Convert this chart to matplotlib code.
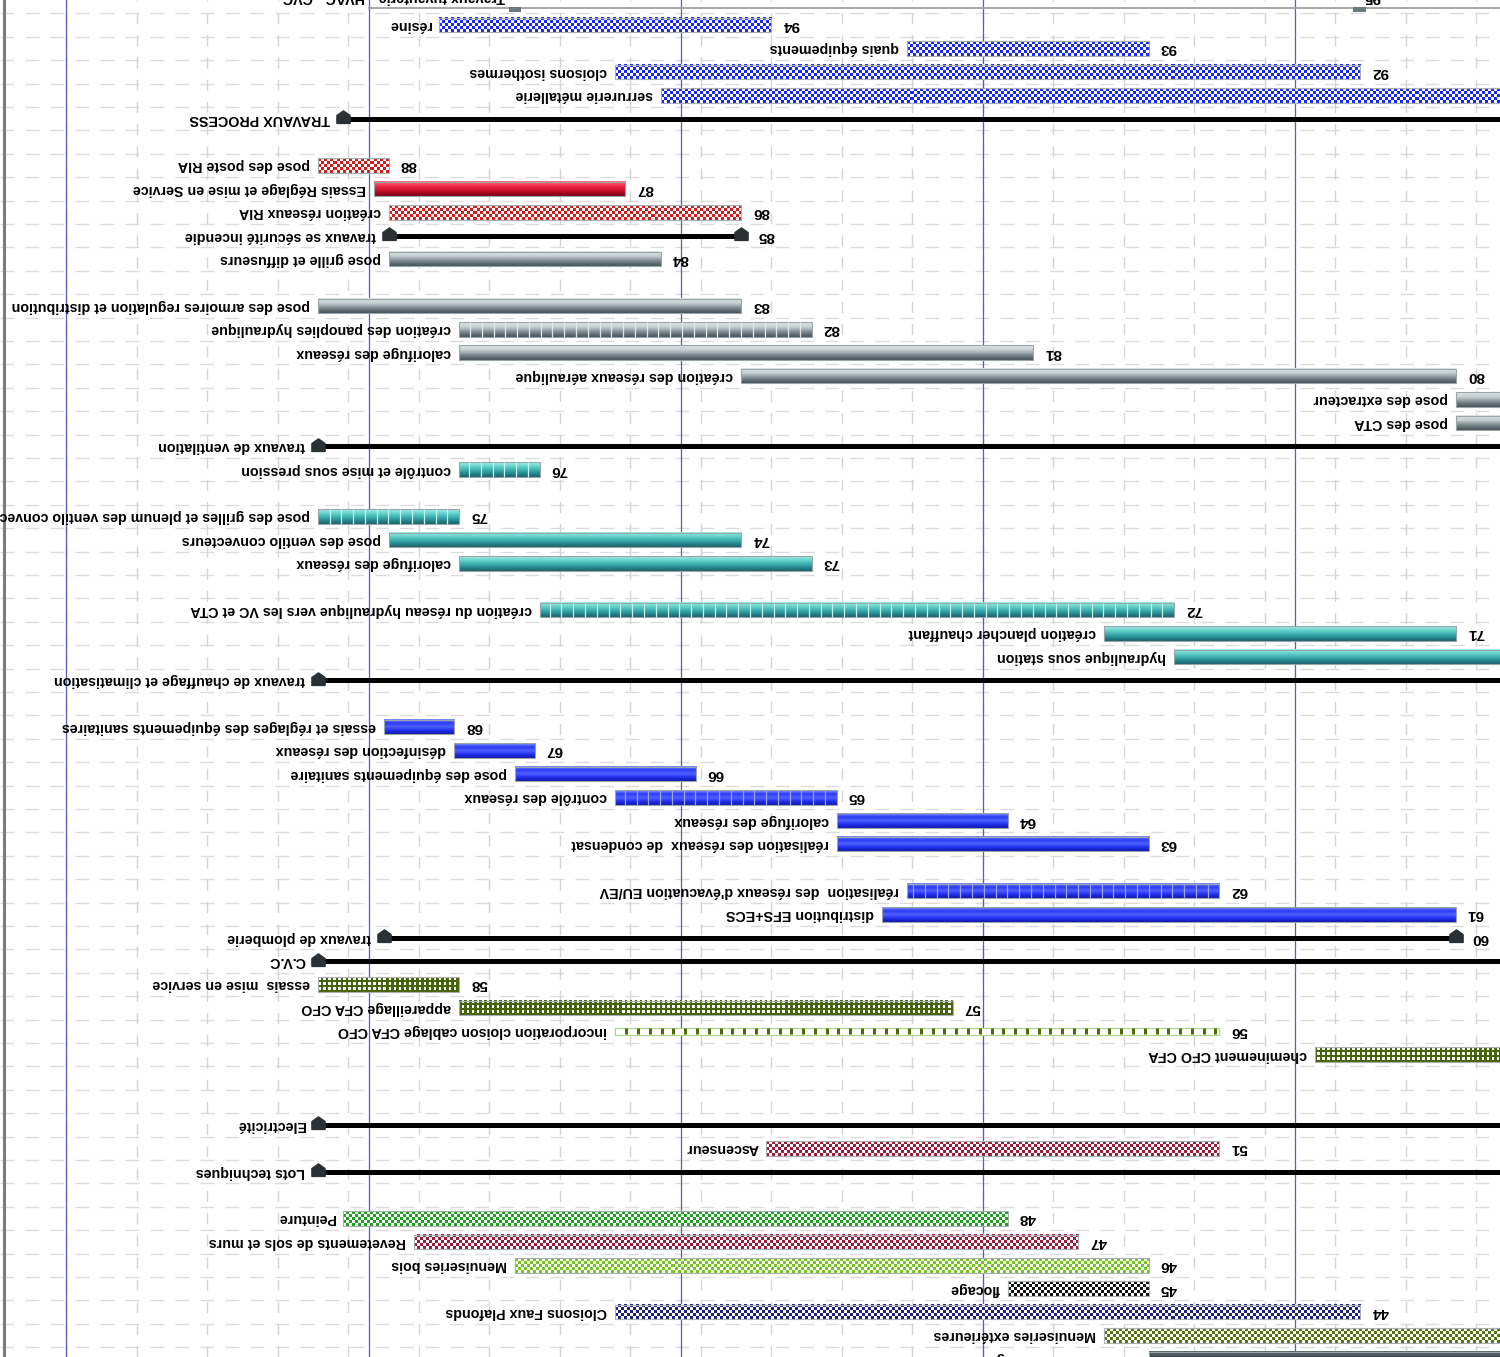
import numpy as np
import matplotlib.pyplot as plt
import matplotlib.transforms as mtransforms
from matplotlib.colors import LinearSegmentedColormap, ListedColormap
from matplotlib.patches import Rectangle
from matplotlib.path import Path

plt.rcParams['font.family'] = ['Liberation Sans', 'DejaVu Sans']

# tasks listed from bottom of the picture upwards (ID order)
# days counted from the first month line, growing to the left
names = ["Couverture et bardage", "Menuiseries extérieures", "Cloisons Faux Plafonds", "flocage",
         "Menuiseries bois", "Revetements de sols et murs", "Peinture", "Lots techniques",
         "Ascenseur", "Electricité", "cheminement CFO CFA", "incorporation cloison cablage CFA CFO",
         "appareillage CFA CFO", "essais  mise en service", "C.V.C", "travaux de plomberie",
         "distribution EFS+ECS", "réalisation  des réseaux d'évacuation EU/EV",
         "réalisation des réseaux  de condensat", "calorifuge des réseaux", "contrôle des réseaux",
         "pose des équipements sanitaire", "désinfection des réseaux",
         "essais et réglages des équipements sanitaires", "travaux de chauffage et climatisation",
         "hydraulique sous station", "création plancher chauffant",
         "création du réseau hydraulique vers les VC et CTA", "calorifuge des réseaux",
         "pose des ventilo convecteurs", "pose des grilles et plenum des ventilo convecteurs",
         "contrôle et mise sous pression", "travaux de ventilation", "pose des CTA",
         "pose des extracteur", "création des réseaux aéraulique", "calorifuge des réseaux",
         "création des panoplies hydraulique", "pose des armoires regulation et distribution",
         "pose grille et diffuseurs", "travaux se sécurité incendie", "création réseaux RIA",
         "Essais Réglage et mise en Service", "pose des poste RIA", "TRAVAUX PROCESS",
         "serrurerie métallerie", "cloisons isothermes", "quais équipements", "résine"]
ids = [42, 43, 44, 45, 46, 47, 48, 50, 51, 52, 55, 56, 57, 58, 59, 60, 61, 62, 63, 64, 65, 66, 67,
       68, 69, 70, 71, 72, 73, 74, 75, 76, 77, 78, 79, 80, 81, 82, 83, 84, 85, 86, 87, 88, 90, 91,
       92, 93, 94]
start = [-25, -25, -6.5, 14.5, 14.5, 21.5, 28.5, -25, 7.5, -25, -25, 7.5, 34, 83, -25, -16, -16,
         7.5, 14.5, 28.5, 45.5, 59.5, 75.5, 83.5, -25, -25, -16, 12, 48, 55, 83, 75, -25, -25, -25,
         -16, 26, 48, 55, 63, 55, 55, 66.5, 90, -25, -25, -6.5, 14.5, 52]
finish = [14.5, 19, 67.5, 28.5, 77.5, 87.5, 94.5, 97, 52.5, 97, -2, 67.5, 83, 97, 97, 90.5, 41,
          38.5, 45.5, 45.5, 67.5, 77.5, 83.5, 90.5, 97, 12, 19, 75, 83, 90, 97, 83, 97, -16, -16,
          55, 83, 83, 97, 90, 90, 90, 91.5, 97, 94.5, 63, 67.5, 38.5, 85]
lines = [1, 1, 1, 1, 1, 1, 2, 1, 1, 3, 1, 1, 1, 1, 1, 1, 1, 2, 1, 1, 1, 1, 1, 2, 1, 1, 1, 2, 1, 1,
         2, 1, 1, 1, 1, 1, 1, 1, 2, 1, 1, 1, 1, 2, 1, 1, 1, 1, 1]
kind = ["slate", "chk_olive2", "chk_navy", "chk_black", "chk_lime", "chk_maroon", "chk_green",
        "sum", "chk_maroon", "sum", "dot_olive", "dash_olive", "dot_olive", "dot_olive", "sum", "sum",
        "blue", "blue_seg", "blue", "blue", "blue_seg", "blue", "blue", "blue", "sum", "teal", "teal",
        "teal_seg", "teal", "teal", "teal_seg", "teal_seg", "sum", "gray", "gray", "gray", "gray",
        "gray_seg", "gray", "gray", "sum", "chk_red", "red", "chk_red", "sum", "chk_blue",
        "chk_blue", "chk_blue", "chk_blue"]

# cut row at the very top
top_labels = ["Travaux tuyauterie", "HVAC - CVC"]
top_id = 95
top_pieces = [(-7.1, -5.8), (76.9, 78.1)]
hvac_start = 92

months = [0, 31, 61, 92, 122]

grads = {'gray': ['#46535a', '#7b888d', '#c6ced1', '#dfe5e6'],
         'teal': ['#1b626c', '#2c9a9e', '#5ccdc6', '#a0eee6'],
         'blue': ['#0f18b0', '#2331f0', '#5060ff', '#2b3bf4', '#8290ff'],
         'red': ['#740010', '#c4102a', '#ee2843', '#ff7088'],
         'slate': ['#1f2a30', '#36444a', '#5d6b70']}
chk = {'chk_blue': '#1626ff', 'chk_red': '#d81a1a', 'chk_navy': '#1e1e7e', 'chk_black': '#111111',
       'chk_lime': '#74c41e', 'chk_maroon': '#9e1a36', 'chk_green': '#1f9f1f',
       'chk_olive2': '#55760e', 'dot_olive': '#46650a'}
seg_col = {'blue': '#9aa4ff', 'teal': '#c6f2ee', 'gray': '#e2e8ea'}

PX_DAY = 10.07
bh = 0.62

fig = plt.figure(figsize=(15, 13.57), dpi=100)
ax = fig.add_axes([0, 0, 1, 1])
ax.axis('off')

ypos = np.cumsum([0] + lines[:-1]) + 0.5

# light dashed grid
for k in range(1, 60):
    ax.axhline(k, color='#dcdcdc', lw=1, dashes=(10, 8), zorder=0)
for w in np.arange(-18, 123, 7):
    ax.axvline(w, color='#d4d4d4', lw=1, dashes=(8, 8), zorder=0)
for m in months:
    ax.axvline(m, color='#5b5bb8', lw=0.9, zorder=1)
ax.axvline(128.2, color='#7c7c7c', lw=2.2, zorder=1)


def checker(x0, x1, y, color, dots=False):
    cell = 2.5 if dots else 3.0
    nx = max(2, int(round(abs(x1 - x0) * PX_DAY / cell)))
    ny = int(round(bh * 23.4 / cell))
    jj, ii = np.meshgrid(np.arange(nx), np.arange(ny))
    if dots:
        arr = ((ii % 2 == 1) & (jj % 2 == 1)).astype(float)
    else:
        arr = ((ii + jj) % 2).astype(float)
    ax.imshow(arr, extent=(x0, x1, y - bh / 2, y + bh / 2), cmap=ListedColormap([color, 'white']),
              vmin=0, vmax=1, interpolation='nearest', aspect='auto', origin='lower', zorder=3)


def gradient(x0, x1, y, cols):
    arr = np.linspace(0, 1, 40).reshape(-1, 1)
    ax.imshow(arr, extent=(x0, x1, y - bh / 2, y + bh / 2),
              cmap=LinearSegmentedColormap.from_list('g', cols), origin='lower',
              aspect='auto', interpolation='bilinear', zorder=3)


house = Path([(-1, -0.9), (1, -0.9), (1, 0.3), (0, 1), (-1, 0.3), (-1, -0.9)],
             [1, 2, 2, 2, 2, 79])

for nm, i_d, s, f, y, kd in zip(names, ids, start, finish, ypos, kind):
    off = 8
    if kd == 'sum':
        ax.plot([s, f], [y, y], color='black', lw=3.6, solid_capstyle='butt', zorder=3)
        ax.plot([s, f], [y + 0.06, y + 0.06], ls='none', marker=house, ms=9.5,
                color='#2a3135', zorder=4)
        off = 13
    elif kd == 'dash_olive':
        ax.add_patch(Rectangle((s, y - 0.14), f - s, 0.28, fc='white', ec='#a9d27f', lw=0.8, zorder=3))
        ax.vlines(np.arange(s + 0.4, f, 1.17), y - 0.12, y + 0.12, colors='#4d6a0c', lw=2.2, zorder=4)
    elif kd.startswith('chk') or kd == 'dot_olive':
        checker(s, f, y, chk[kd], dots=(kd == 'dot_olive'))
        ax.add_patch(Rectangle((s, y - bh / 2), f - s, bh, fc='none', ec='#a7b0b3', lw=0.8, zorder=4))
    else:
        base = kd.replace('_seg', '')
        gradient(s, f, y, grads[base])
        ax.add_patch(Rectangle((s, y - bh / 2), f - s, bh, fc='none', ec='#9aa5a8', lw=0.8, zorder=4))
        if kd.endswith('_seg'):
            ax.vlines(np.arange(s + 1.17, f, 1.17), y - bh / 2, y + bh / 2,
                      colors=seg_col[base], lw=0.9, zorder=4)
    lab_tr = mtransforms.offset_copy(ax.transData, fig=fig, x=-off, y=0, units='dots')
    num_tr = mtransforms.offset_copy(ax.transData, fig=fig, x=off + 3, y=0, units='dots')
    ax.text(f, y, nm, rotation=180, ha='right', va='center', fontsize=10.3,
            fontweight='bold', transform=lab_tr, zorder=5)
    ax.text(s, y, str(i_d), rotation=180, ha='left', va='center', fontsize=11,
            fontweight='bold', transform=num_tr, zorder=5)

# cut row at the top edge
yt = ypos[-1] + lines[-1]
for p0, p1 in top_pieces:
    ax.add_patch(Rectangle((p0, yt - 0.42), p1 - p0, 0.2, fc='#6c7a80', ec='none', zorder=3))
ax.plot([hvac_start, -25], [yt - 0.27, yt - 0.27], color='#a0a0a0', lw=1.3, zorder=2)
t_tr = mtransforms.offset_copy(ax.transData, fig=fig, x=-4, y=5, units='dots')
ax.text(top_pieces[1][1], yt, top_labels[0], rotation=180, ha='right', va='center',
        fontsize=10.3, fontweight='bold', transform=t_tr)
ax.text(hvac_start, yt, top_labels[1], rotation=180, ha='right', va='center',
        fontsize=10.3, fontweight='bold', transform=t_tr)
n_tr = mtransforms.offset_copy(ax.transData, fig=fig, x=10, y=5, units='dots')
ax.text(top_pieces[0][1], yt, str(top_id), rotation=180, ha='left', va='center',
        fontsize=11, fontweight='bold', transform=n_tr)

ax.set_xlim(128.6, -20.36)
ax.set_ylim(0.58, 0.58 + 1357 / 23.4)

fig.savefig('out.png', dpi=100)
